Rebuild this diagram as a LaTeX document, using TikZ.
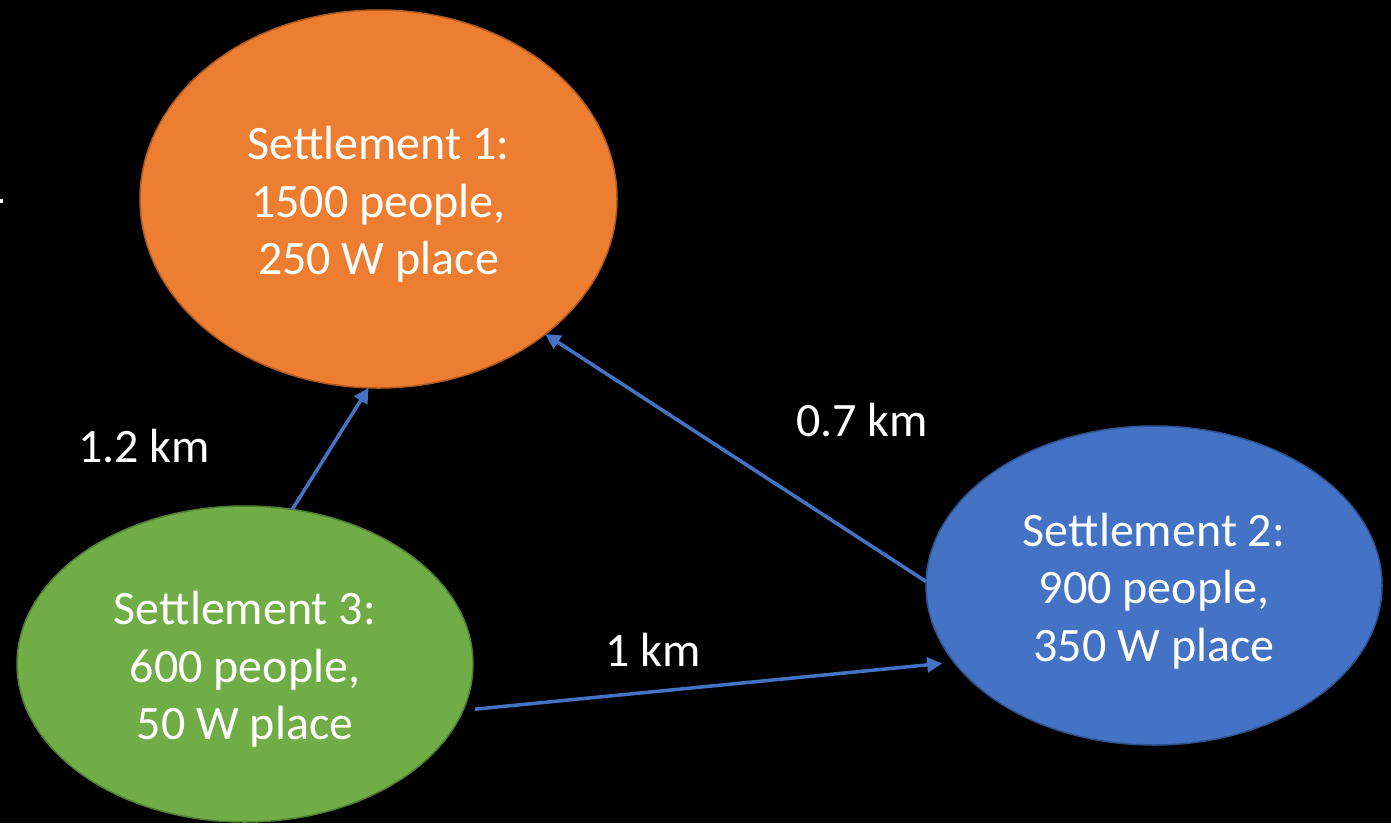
\documentclass[tikz,border=0pt]{standalone}
\usepackage{fontspec}
\setmainfont{Carlito}
\usepackage{tikz}
\usetikzlibrary{arrows.meta,shapes.geometric}

\definecolor{orangefill}{HTML}{ED7D31}
\definecolor{orangeline}{HTML}{AE5A21}
\definecolor{bluefill}{HTML}{4472C4}
\definecolor{blueline}{HTML}{2F528F}
\definecolor{greenfill}{HTML}{70AD47}
\definecolor{greenline}{HTML}{507E32}
\newcommand{\toppad}{\rule{0pt}{44pt}}

\begin{document}
\begin{tikzpicture}[
  x=1pt, y=-1pt, font=\fontsize{48}{57.5}\selectfont,
  town/.style={ellipse, line width=1.5pt, text=white, align=center, inner sep=0pt, outer sep=0pt},
  dist/.style={text=white, anchor=base, inner sep=0pt},
  arr/.style={-{Triangle[length=15pt,width=15pt]}, line width=3.5pt, bluefill}]
  \useasboundingbox[fill=black] (0,0) rectangle (1391,823);
  \fill[white] (0,199) rectangle (3,203);
  \node[town, fill=orangefill, draw=orangeline, minimum width=477pt, minimum height=378pt] (s1) at (378.5,199)
       {\toppad Settlement 1:\\1500 people,\\250 W place};
  \node[town, fill=bluefill, draw=blueline, minimum width=456pt, minimum height=319pt] (s2) at (1154,585.5)
       {\toppad Settlement 2:\\900 people,\\350 W place};
  \node[town, fill=greenfill, draw=greenline, minimum width=456pt, minimum height=316pt] (s3) at (245,664)
       {\toppad Settlement 3:\\600 people,\\50 W place};
  \node[dist] (d31) at (144,462) {1.2 km};
  \node[dist] (d21) at (862,436.5) {0.7 km};
  \node[dist] (d32) at (653,666.5) {1 km};
  \draw[arr] (s3.73) -- (s1.267);
  \draw[arr] (s2.179) -- (s1.321);
  \draw[arr, shorten <=12pt, shorten >=12pt] (s3.348) -- (s2.201);
\end{tikzpicture}
\end{document}
